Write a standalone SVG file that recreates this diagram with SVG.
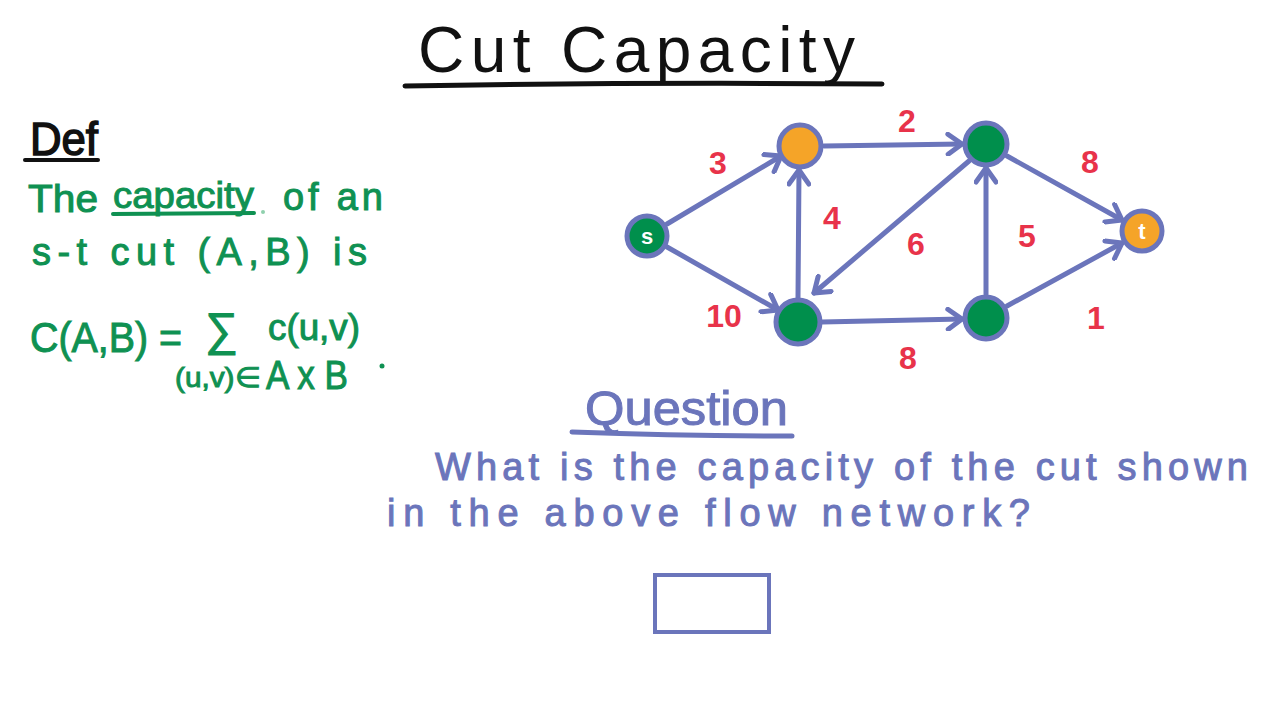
<svg xmlns="http://www.w3.org/2000/svg" width="1280" height="720" viewBox="0 0 1280 720">
<defs>
<style>
.title{font-family:"Liberation Sans",Arial,sans-serif;fill:#111;}
.grn{font-family:"Liberation Sans",Arial,sans-serif;fill:#0f9152;stroke:#0f9152;stroke-width:1;}
.blu{font-family:"Liberation Sans",Arial,sans-serif;fill:#6b75bb;stroke:#6b75bb;stroke-width:1;}
.cap{font-family:"Liberation Sans",Arial,sans-serif;fill:#e8334a;font-size:32px;font-weight:bold;text-anchor:middle;}
.edge{stroke:#6b75bb;stroke-width:5;fill:none;stroke-linecap:round;marker-end:url(#arr);}
.node{stroke:#6b75bb;stroke-width:5;}
.g{fill:#008f4c;}
.o{fill:#f5a428;}
.nl{font-family:"Liberation Sans",Arial,sans-serif;fill:#fff;font-size:22px;font-weight:bold;text-anchor:middle;}
.ul{stroke-linecap:round;fill:none;}
</style>
<marker id="arr" markerUnits="userSpaceOnUse" markerWidth="24" markerHeight="24" viewBox="0 0 24 24" refX="20" refY="12" orient="auto">
<path d="M6,2 L20,12 L6,22" fill="none" stroke="#6b75bb" stroke-width="5" stroke-linecap="round" stroke-linejoin="round"/>
</marker>
</defs>
<rect width="1280" height="720" fill="#fff"/>

<g id="title">
<text class="title" x="418" y="72" font-size="64" textLength="437" lengthAdjust="spacing">Cut Capacity</text>
<path class="ul" d="M405,86 Q640,82 882,84" stroke="#111" stroke-width="5"/>
</g>

<g id="definition">
<text class="title" x="30" y="155" font-size="46" stroke="#111" stroke-width="1.5" textLength="68" lengthAdjust="spacingAndGlyphs">Def</text>
<path class="ul" d="M25,160 L98,160" stroke="#111" stroke-width="4"/>
<text class="grn" x="28" y="212" font-size="38" textLength="70" lengthAdjust="spacingAndGlyphs">The</text>
<text class="grn" x="113" y="208" font-size="36" textLength="141" lengthAdjust="spacingAndGlyphs">capacity</text>
<circle cx="263" cy="212" r="2" fill="#8fd0ad"/>
<text class="grn" x="283" y="210" font-size="38" textLength="100" lengthAdjust="spacing">of an</text>
<path class="ul" d="M113,214 L254,213" stroke="#0f9152" stroke-width="4"/>
<text class="grn" x="32" y="265" font-size="38" textLength="335" lengthAdjust="spacing">s-t cut (A,B) is</text>
<text class="grn" x="30" y="352" font-size="42" textLength="152" lengthAdjust="spacingAndGlyphs">C(A,B) =</text>
<text class="grn" x="205" y="345" font-size="46">∑</text>
<text class="grn" x="268" y="340" font-size="36" textLength="92" lengthAdjust="spacingAndGlyphs">c(u,v)</text>
<text class="grn" x="175" y="387" font-size="28" textLength="85" lengthAdjust="spacingAndGlyphs">(u,v)∈</text>
<text class="grn" x="266" y="389" font-size="40" textLength="82" lengthAdjust="spacingAndGlyphs">A x B</text>
<circle cx="382" cy="366" r="2.5" fill="#0f9152"/>
</g>

<g id="connectors">
<line class="edge" x1="667" y1="224" x2="781" y2="156"/>
<line class="edge" x1="667" y1="247" x2="778" y2="310"/>
<line class="edge" x1="824" y1="146" x2="962" y2="144"/>
<line class="edge" x1="798" y1="298" x2="799" y2="170"/>
<line class="edge" x1="969" y1="161" x2="814" y2="293"/>
<line class="edge" x1="822" y1="322" x2="962" y2="319"/>
<line class="edge" x1="986" y1="294" x2="986" y2="168"/>
<line class="edge" x1="1007" y1="156" x2="1122" y2="220"/>
<line class="edge" x1="1007" y1="306" x2="1122" y2="243"/>
</g>

<g id="edge-labels">
<text class="cap" x="718" y="174">3</text>
<text class="cap" x="724" y="327">10</text>
<text class="cap" x="907" y="132">2</text>
<text class="cap" x="832" y="229">4</text>
<text class="cap" x="916" y="255">6</text>
<text class="cap" x="1090" y="173">8</text>
<text class="cap" x="1027" y="247">5</text>
<text class="cap" x="908" y="369">8</text>
<text class="cap" x="1096" y="329">1</text>
</g>

<g id="node-s"><circle class="node g" cx="647" cy="236" r="20"/><text class="nl" x="647" y="244">s</text></g>
<g id="node-a"><circle class="node o" cx="800" cy="146" r="21"/></g>
<g id="node-b"><circle class="node g" cx="986" cy="144" r="21"/></g>
<g id="node-c"><circle class="node g" cx="798" cy="322" r="22"/></g>
<g id="node-d"><circle class="node g" cx="986" cy="318" r="21"/></g>
<g id="node-t"><circle class="node o" cx="1142" cy="231" r="20"/><text class="nl" x="1142" y="239">t</text></g>

<g id="question">
<text class="blu" x="585" y="425" font-size="48" textLength="203" lengthAdjust="spacingAndGlyphs">Question</text>
<path class="ul" d="M572,432 Q680,436 792,436" stroke="#6b75bb" stroke-width="5"/>
<text class="blu" x="435" y="480" font-size="38" textLength="813" lengthAdjust="spacing">What is the capacity of the cut shown</text>
<text class="blu" x="387" y="526" font-size="38" textLength="643" lengthAdjust="spacing">in the above flow network?</text>
</g>

<g id="answer-box">
<rect x="655" y="575" width="114" height="57" fill="none" stroke="#6b75bb" stroke-width="4"/>
</g>
</svg>
